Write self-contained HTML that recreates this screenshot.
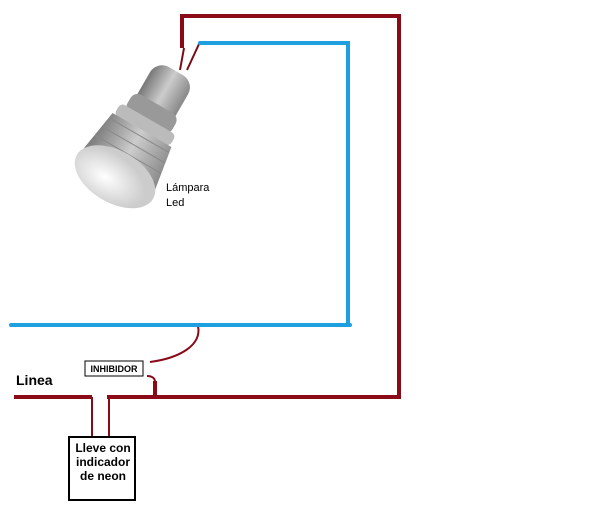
<!DOCTYPE html>
<html><head><style>body{margin:0;background:#fff;}svg{display:block}</style></head><body>
<svg width="600" height="531" viewBox="0 0 600 531" xmlns="http://www.w3.org/2000/svg">
<defs>
<linearGradient id="g1" x1="0" x2="1"><stop offset="0" stop-color="#777"/><stop offset=".5" stop-color="#ccc"/><stop offset="1" stop-color="#888"/></linearGradient>
<radialGradient id="g2" cx=".4" cy=".6"><stop offset="0" stop-color="#fff"/><stop offset="1" stop-color="#ccc"/></radialGradient>
</defs>
<!-- lamp -->
<g transform="translate(-8 10) rotate(30 150 120)">
<rect x="128" y="52" width="44" height="60" rx="14" fill="url(#g1)"/>
<rect x="124" y="90" width="52" height="22" rx="8" fill="#999"/>
<rect x="118" y="107" width="64" height="14" rx="5" fill="#bbb"/>
<path d="M116 120 L184 120 L192 170 L108 170 Z" fill="url(#g1)"/>
<path d="M116 126 L184 126 M114 137 L186 137 M112 148 L188 148 M110 159 L190 159" stroke="#888" stroke-width="1"/>
<ellipse cx="150" cy="174" rx="44" ry="26" fill="url(#g2)"/>
</g>
<line x1="180" y1="70" x2="184" y2="48" stroke="#7a0a14" stroke-width="2"/>
<line x1="187" y1="70" x2="199" y2="44" stroke="#7a0a14" stroke-width="2"/>
<text x="166" y="191" font-family="Liberation Sans, sans-serif" font-size="11">Lámpara</text>
<text x="166" y="206" font-family="Liberation Sans, sans-serif" font-size="11">Led</text>
<!-- red wires -->
<g stroke="#8b0a18" stroke-width="4" fill="none">
<polyline points="182,48 182,16 399,16 399,397 107,397"/>
<line x1="14" y1="397" x2="92" y2="397"/>
<line x1="155" y1="381" x2="155" y2="397"/>
</g>
<g stroke="#8b0a18" stroke-width="2" fill="none">
<line x1="92" y1="397" x2="92" y2="436"/>
<line x1="109" y1="397" x2="109" y2="436"/>
<path d="M150 362 C180 358 202 345 198 326"/>
<path d="M147 376 C152 376 155 378 155 382"/>
</g>
<!-- blue -->
<g stroke="#1ea0e0" stroke-width="4" fill="none" stroke-linecap="round">
<polyline points="200,43 348,43 348,325"/>
<line x1="11" y1="325" x2="350" y2="325"/>
</g>
<rect x="85" y="361" width="58" height="15" fill="#fff" stroke="#000" stroke-width="1"/>
<text x="114" y="372" font-family="Liberation Sans, sans-serif" font-size="9" font-weight="bold" text-anchor="middle">INHIBIDOR</text>
<text x="16" y="385" font-family="Liberation Sans, sans-serif" font-size="14" font-weight="bold">Linea</text>
<rect x="69" y="437" width="66" height="63" fill="#fff" stroke="#000" stroke-width="2"/>
<g font-family="Liberation Sans, sans-serif" font-size="12" font-weight="bold" text-anchor="middle">
<text x="103" y="452">Lleve con</text>
<text x="103" y="466">indicador</text>
<text x="103" y="480">de neon</text>
</g>
</svg>
</body></html>
